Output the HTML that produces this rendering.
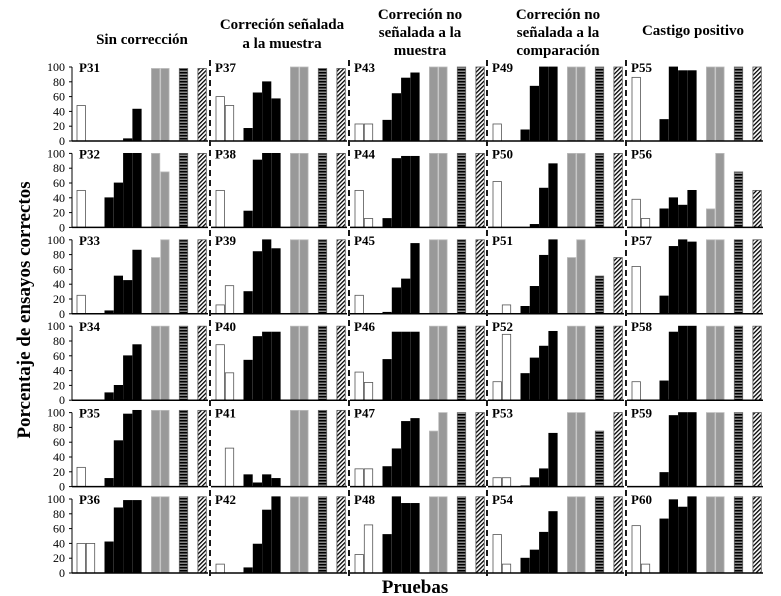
<!DOCTYPE html>
<html><head><meta charset="utf-8">
<style>
html,body{margin:0;padding:0;background:#fff;}
svg{display:block;font-family:"Liberation Serif",serif;}
</style></head>
<body>
<svg id="chart" width="781" height="596" viewBox="0 0 781 596">
<defs>
<pattern id="hstripe" patternUnits="userSpaceOnUse" width="4" height="3">
<rect width="4" height="3" fill="#888"/><rect width="4" height="1.5" fill="#000"/>
</pattern>
<pattern id="hatch" patternUnits="userSpaceOnUse" width="3" height="3" patternTransform="rotate(45)">
<rect width="3" height="3" fill="#fff"/><rect width="1.3" height="3" fill="#000"/>
</pattern>
</defs>
<g font-weight="bold" font-size="15" text-anchor="middle">
<text x="142" y="44">Sin corrección</text>
<text x="282" y="29"><tspan x="282">Correción señalada</tspan><tspan x="282" dy="19">a la muestra</tspan></text>
<text x="420" y="19"><tspan x="420">Correción no</tspan><tspan x="420" dy="18">señalada a la</tspan><tspan x="420" dy="18">muestra</tspan></text>
<text x="558" y="19"><tspan x="558">Correción no</tspan><tspan x="558" dy="18">señalada a la</tspan><tspan x="558" dy="18">comparación</tspan></text>
<text x="693" y="35">Castigo positivo</text>
</g>
<text x="0" y="0" transform="translate(30,310) rotate(-90)" text-anchor="middle" font-weight="bold" font-size="19">Porcentaje de ensayos correctos</text>
<text x="415" y="593" text-anchor="middle" font-weight="bold" font-size="19">Pruebas</text>
<g id="panels"></g>
</svg>
<script>
const participants = [31,32,33,34,35,36,37,38,39,40,41,42,43,44,45,46,47,48,49,50,51,52,53,54,55,56,57,58,59,60];
const whiteVals = [[48,0],[50,0],[25,0],[0,0],[26,0],[40,40],
 [60,48],[50,0],[12,38],[75,37],[0,52],[12,0],
 [23,23],[50,12],[25,0],[38,24],[24,24],[25,65],
 [23,0],[62,0],[0,12],[25,89],[12,12],[52,12],
 [86,0],[38,12],[64,0],[25,0],[0,0],[64,12]];
const blackVals = [[0,0,3,43],[40,60,100,100],[4,51,45,86],[10,20,60,75],[11,62,98,103],[42,88,98,98],
 [17,65,80,57],[22,91,100,100],[30,84,100,88],[54,86,92,92],[16,5,16,11],[7,39,85,103],
 [28,64,85,92],[12,93,96,96],[2,35,47,95],[55,92,92,92],[27,51,88,92],[52,103,94,94],
 [15,74,100,100],[0,4,53,86],[10,37,79,100],[36,57,73,93],[1,12,24,72],[20,31,55,83],
 [29,100,95,95],[25,40,30,50],[24,91,100,97],[26,92,100,100],[19,96,100,100],[73,99,89,103]];
const grayVals = [[98,98],[100,75],[76,100],[100,100],[103,103],[103,103],
 [100,100],[100,100],[100,100],[100,100],[103,103],[103,103],
 [100,100],[100,100],[100,100],[100,100],[75,100],[103,103],
 [100,100],[100,100],[76,100],[100,100],[100,100],[103,103],
 [100,100],[25,100],[100,100],[100,100],[100,100],[103,103]];
const stripeVals = [98,100,100,100,103,103, 98,100,100,100,103,103, 100,100,100,100,100,103, 100,100,51,100,75,103, 100,75,100,100,100,103];
const hatchVals = [98,100,100,100,103,103, 98,100,100,100,103,103, 100,100,100,100,100,103, 100,100,76,100,100,103, 100,50,100,100,100,103];
const yTicks = [0,20,40,60,80,100];

const NS = 'http://www.w3.org/2000/svg';
const root = document.getElementById('panels');
const colLeft = [72,211,350,488,627];
const colW = 136;
const slot = 9.3, barW = 8.4;
function rowTop(r){ return 67 + r*86.4; }
const H = 74;
function yScale(r, v){ return rowTop(r) + H - v/100*H; }
function xSlot(c, s){ return colLeft[c] + 5 + s*slot; }
function mk(tag, attrs){ const e=document.createElementNS(NS,tag); for(const k in attrs) e.setAttribute(k,attrs[k]); return e; }

[210,349,487,626].forEach((x,i)=>{
  const l = mk('line',{x1:x,y1:60,x2:x,y2:579,stroke:'#000','stroke-width':1.8,'stroke-dasharray':'6,4'});
  
  
  root.appendChild(l);
});

participants.forEach((p, i) => {
  const c = Math.floor(i/6), r = i%6;
  const g = mk('g',{});
  
  
  root.appendChild(g);
  const base = yScale(r,0);
  function bar(s, v, fill, stroke, name){
    if(!v) return;
    const y = yScale(r, v);
    const b = mk('rect',{x:xSlot(c,s),y:y,width:barW,height:base-y,fill:fill,stroke:stroke,'stroke-width':0.8});
    
    
    g.appendChild(b);
  }
  whiteVals[i].forEach((v,k)=>bar(k, v, '#fff', '#555', 'white-bar-'+(k+1)));
  blackVals[i].forEach((v,k)=>bar(3+k, v, '#000', '#000', 'black-bar-'+(k+1)));
  grayVals[i].forEach((v,k)=>bar(8+k, v, '#999', '#bbb', 'gray-bar-'+(k+1)));
  bar(11, stripeVals[i], 'url(#hstripe)', '#666', 'striped-bar');
  bar(13, hatchVals[i], 'url(#hatch)', '#555', 'hatched-bar');
  const bl = mk('line',{x1:colLeft[c],y1:base,x2:colLeft[c]+colW,y2:base,stroke:'#000','stroke-width':1.5});
  
  
  g.appendChild(bl);
  const t = mk('text',{x:xSlot(c,0)+ (c===0?2:-1),y:rowTop(r)+5,'font-size':13,'font-weight':'bold'});
  t.textContent = 'P'+p;
  
  
  g.appendChild(t);
  if(c===0){
    const ax = mk('line',{x1:72,y1:rowTop(r),x2:72,y2:base,stroke:'#000','stroke-width':1});
    
    
    g.appendChild(ax);
    yTicks.forEach(tv=>{
      const y = yScale(r,tv);
      const tk = mk('line',{x1:69,y1:y,x2:72,y2:y,stroke:'#000','stroke-width':1});
      
      
      g.appendChild(tk);
      const tl = mk('text',{x:65,y:y+4,'font-size':12,'text-anchor':'end'});
      tl.textContent = tv;
      
      
      g.appendChild(tl);
    });
  }
});
</script>
</body></html>
